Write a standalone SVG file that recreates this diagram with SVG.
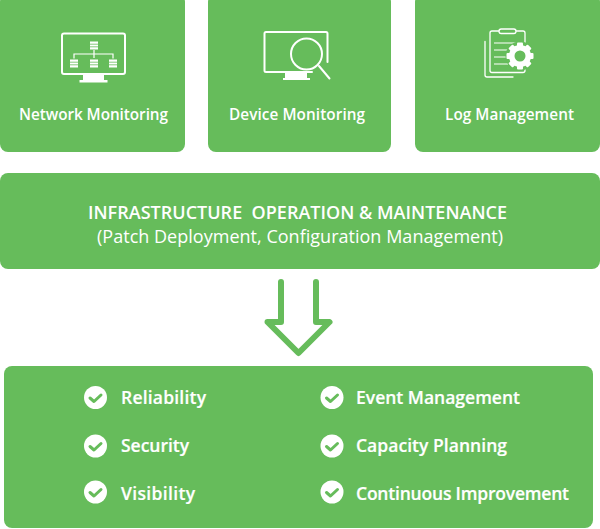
<svg xmlns="http://www.w3.org/2000/svg" width="600" height="529" viewBox="0 0 600 529">
<style>
.box{fill:#66bc5b}
text{font-family:"Open Sans","Noto Sans","Liberation Sans",sans-serif;fill:#fff}
.t{font-size:15.3px;font-weight:600}
.l{font-size:17.5px;font-weight:600;stroke:#fff;stroke-width:.2}
.ln{fill:none;stroke:#fff;stroke-width:2;stroke-linecap:round;stroke-linejoin:round}
.th{fill:none;stroke:#fff;stroke-width:1.2}
.w{fill:#fff}
</style>
<defs>
<g id="srv"><rect x="-4" y="-4" width="8" height="8" fill="#fff"/><path d="M-4-1.3H4M-4 1.3H4" stroke="#66bc5b" stroke-width=".8"/></g>
<g id="chk"><circle r="11.5" fill="#fff"/><path d="M-5.500 .5L-1.500 4L5.500-2.500" fill="none" stroke="#66bc5b" stroke-width="3" stroke-linecap="round" stroke-linejoin="round"/></g>
</defs>
<g id="network-monitoring">
<rect class="box" x="0" y="-6" width="185" height="158" rx="8"/>
<rect class="ln" x="62" y="33.500" width="63" height="40.500" rx="2"/>
<path class="w" d="M83 74H104V80H107.500V82.500H79.500V80H83Z"/>
<use href="#srv" x="94" y="45.500"/><use href="#srv" x="74" y="63.500"/><use href="#srv" x="94" y="63.500"/><use href="#srv" x="113" y="63.500"/>
<path class="th" d="M94 50V58M74 58.500V54H113V58.500" stroke-width="1"/>
<text class="t" x="19" y="120" textLength="149">Network Monitoring</text>
</g>
<g id="device-monitoring">
<rect class="box" x="208" y="-6" width="183" height="158" rx="8"/>
<path class="ln" d="M291 72H266Q264.500 72 264.500 70.500V33.500Q264.500 32 266 32H326Q327.500 32 327.500 33.500V62"/>
<path class="ln" d="M291 72H312"/>
<circle class="ln" cx="306.500" cy="54" r="15.500" stroke-width="2.200"/>
<path class="ln" d="M319 66L329.500 78.500"/>
<path class="w" d="M285 72H307V78H310V80H283V78H285Z"/>
<text class="t" x="229" y="120" textLength="136">Device Monitoring</text>
</g>
<g id="log-management">
<rect class="box" x="415" y="-6" width="185" height="158" rx="8"/>
<rect class="ln" x="490" y="31" width="35" height="41.500" rx="2" style="stroke-width:1.300"/>
<rect class="box" x="499" y="29" width="17" height="4.500" rx="2.200" stroke="#fff" stroke-width="1.300"/>
<path class="ln" d="M485 41.500V75Q485 77 487 77H513" style="stroke-width:1.300"/>
<path class="th" d="M494 43H516M494 50H514M494 57H510M494 64H508"/>
<g transform="translate(520 56)">
<circle r="14.500" fill="#66bc5b"/>
<circle r="8.300" fill="none" stroke="#fff" stroke-width="5.600"/>
<g fill="#fff"><rect x="-3" y="-13.500" width="6" height="5" rx="1"/><rect x="-3" y="8.500" width="6" height="5" rx="1"/><rect x="8.500" y="-3" width="5" height="6" rx="1"/><rect x="-13.500" y="-3" width="5" height="6" rx="1"/><rect x="-3" y="-13.500" width="6" height="5" rx="1" transform="rotate(45)"/><rect x="-3" y="-13.500" width="6" height="5" rx="1" transform="rotate(135)"/><rect x="-3" y="-13.500" width="6" height="5" rx="1" transform="rotate(225)"/><rect x="-3" y="-13.500" width="6" height="5" rx="1" transform="rotate(315)"/></g>
</g>
<text class="t" x="445" y="120" textLength="129">Log Management</text>
</g>
<g id="infrastructure">
<rect class="box" x="0" y="173" width="600" height="96" rx="8"/>
<text x="88" y="219" font-size="18" font-weight="600" xml:space="preserve" textLength="419">INFRASTRUCTURE  OPERATION &amp; MAINTENANCE</text>
<text x="97" y="243" font-size="18" font-weight="400" textLength="406">(Patch Deployment, Configuration Management)</text>
</g>
<g id="connectors">
<path d="M281 282V322H267.500L298.500 353L329.500 322H316V282" fill="none" stroke="#66bc5b" stroke-width="6" stroke-linecap="round" stroke-linejoin="round"/>
</g>
<g id="outcomes">
<rect class="box" x="4" y="366" width="589" height="162" rx="8"/>
<use href="#chk" x="95.500" y="397.500"/><use href="#chk" x="95.500" y="446"/><use href="#chk" x="95.500" y="492"/>
<use href="#chk" x="332" y="397.500"/><use href="#chk" x="332" y="446"/><use href="#chk" x="332" y="492"/>
<text class="l" x="121" y="403.500" textLength="85">Reliability</text>
<text class="l" x="121" y="451.500" textLength="68">Security</text>
<text class="l" x="121" y="499.500" textLength="74">Visibility</text>
<text class="l" x="356" y="403.500" textLength="164">Event Management</text>
<text class="l" x="356" y="451.500" textLength="151">Capacity Planning</text>
<text class="l" x="356" y="499.500" textLength="213">Continuous Improvement</text>
</g>
</svg>
